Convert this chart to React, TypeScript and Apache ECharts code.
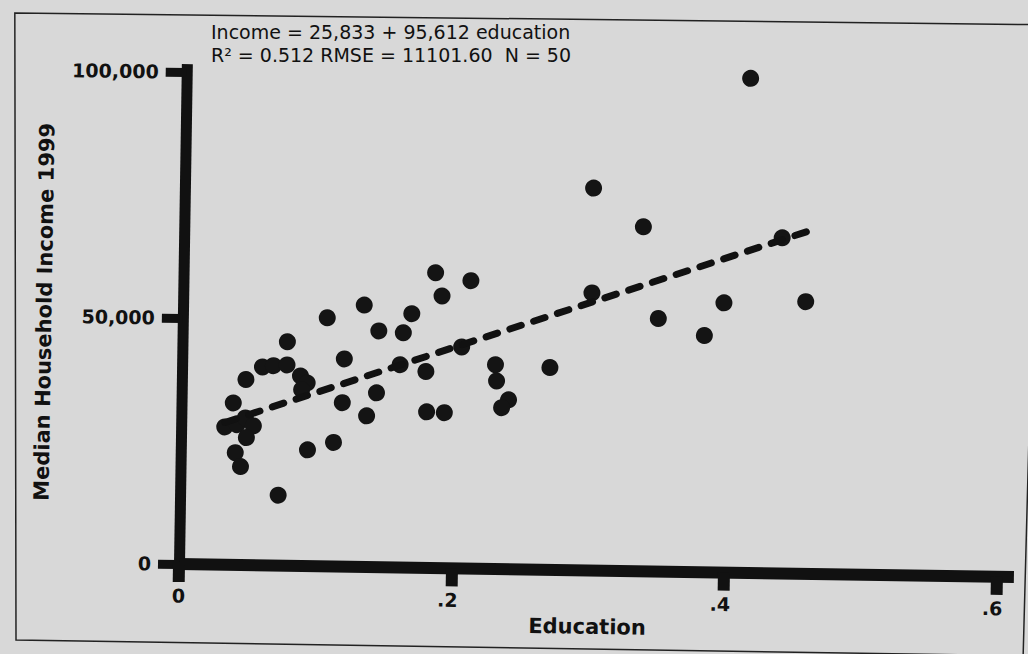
import React, { useEffect, useRef } from "react";
import * as echarts from "echarts";

// ---- data ----
const education = [
  0.185, 0.211, 0.19, 0.133, 0.106, 0.168, 0.144, 0.162, 0.077, 0.119,
  0.205, 0.059, 0.067, 0.077, 0.16, 0.179, 0.047, 0.087, 0.092, 0.088,
  0.143, 0.038, 0.118, 0.136, 0.18, 0.193, 0.032, 0.041, 0.047, 0.053,
  0.048, 0.112, 0.093, 0.04, 0.044, 0.072, 0.23, 0.231, 0.24, 0.235,
  0.27, 0.3, 0.3, 0.337, 0.349, 0.383, 0.397, 0.414, 0.439, 0.457,
];
const income = [
  60000, 58500, 55300, 53200, 50500, 51600, 48000, 47700, 45500, 42200,
  45000, 40300, 40600, 40800, 41200, 39900, 37700, 38600, 37200, 35800,
  35400, 32900, 33300, 30700, 31700, 31600, 28000, 28500, 29900, 28300,
  25900, 25200, 23600, 22800, 20000, 14300, 41500, 38200, 34400, 32800,
  41100, 56400, 77700, 70000, 51400, 48100, 54800, 100500, 68200, 55300,
];
const xTicks = [0, 0.2, 0.4, 0.6];
const yTicks = [0, 50000, 100000];
const fitIntercept = 25833;
const fitSlope = 95612;
const fitTitle = "Income = 25,833 + 95,612 education";
const fitStats = "R\u00B2 = 0.512 RMSE = 11101.60  N = 50";
const xName = "Education";
const yName = "Median Household Income 1999";

const TILT_DEG = 0.9;
const ORIGIN_X = 179;
const ORIGIN_Y = 564;
const INK = "#111111";
const FONT = "DejaVu Sans";

export default function App() {
  const ref = useRef<HTMLDivElement>(null);

  useEffect(() => {
    if (!ref.current) return;
    const chart = echarts.init(ref.current, null, { renderer: "svg" });

    const points = education.map((e, i) => [e, income[i]]);
    const eMin = Math.min(...education);
    const eMax = Math.max(...education);
    const fitLine = [
      [eMin, fitIntercept + fitSlope * eMin],
      [eMax, fitIntercept + fitSlope * eMax],
    ];
    const tilt = (TILT_DEG * Math.PI) / 180;
    const rel = (x: number, y: number) => [x - ORIGIN_X, y - ORIGIN_Y];
    const t1 = rel(211, 32);
    const t2 = rel(211, 55);

    chart.setOption({
      animation: false,
      backgroundColor: "transparent",
      grid: {
        left: ORIGIN_X,
        right: 14,
        top: 64,
        bottom: 654 - ORIGIN_Y,
        outerBoundsMode: "none",
        containLabel: false,
      },
      xAxis: {
        type: "value",
        min: 0,
        max: 0.613,
        interval: 0.2,
        splitLine: { show: false },
        axisLine: { show: true, lineStyle: { color: INK, width: 12, cap: "butt" } },
        axisTick: {
          show: true,
          customValues: xTicks,
          length: 18,
          lineStyle: { color: INK, width: 12, cap: "butt" },
        },
        axisLabel: {
          customValues: xTicks,
          margin: 22,
          color: INK,
          fontFamily: FONT,
          fontWeight: "bold",
          fontSize: 19,
          formatter: (v: number) =>
            v === 0 ? "{t|0}" : "{t|" + String(v).replace(/^0/, "") + "}{s| }",
          rich: {
            t: { fontFamily: FONT, fontWeight: "bold", fontSize: 19, color: INK },
            s: { fontFamily: FONT, fontSize: 19, width: 7 },
          },
        },
        name: xName,
        nameLocation: "middle",
        nameGap: 43,
        nameTextStyle: {
          color: INK,
          fontFamily: FONT,
          fontWeight: "bold",
          fontSize: 21,
          padding: [0, 17, 0, 0],
        },
      },
      yAxis: {
        type: "value",
        min: 0,
        max: 101600,
        interval: 50000,
        splitLine: { show: false },
        axisLine: { show: true, lineStyle: { color: INK, width: 11, cap: "butt" } },
        axisTick: {
          show: true,
          customValues: yTicks,
          length: 21,
          lineStyle: { color: INK, width: 9, cap: "butt" },
        },
        axisLabel: {
          customValues: yTicks,
          margin: 28,
          color: INK,
          fontFamily: FONT,
          fontWeight: "bold",
          fontSize: 19,
          formatter: (v: number) => v.toLocaleString("en-US"),
        },
        name: yName,
        nameLocation: "middle",
        nameGap: 128,
        nameTextStyle: {
          color: INK,
          fontFamily: FONT,
          fontWeight: "bold",
          fontSize: 21,
        },
      },
      series: [
        {
          type: "scatter",
          data: points,
          symbol: "circle",
          symbolSize: 17,
          clip: false,
          itemStyle: { color: "#141414", opacity: 1 },
          z: 3,
        },
        {
          type: "line",
          data: fitLine,
          showSymbol: false,
          symbol: "none",
          clip: false,
          lineStyle: { color: INK, width: 7, type: [12, 13], cap: "round", opacity: 1 },
          z: 4,
        },
      ],
      graphic: [
        {
          type: "group",
          x: ORIGIN_X,
          y: ORIGIN_Y,
          rotation: tilt,
          silent: true,
          children: [
            {
              type: "text",
              x: t1[0],
              y: t1[1],
              style: {
                text: fitTitle,
                fill: INK,
                font: `19px "${FONT}"`,
                lineHeight: 20,
                align: "left",
                verticalAlign: "middle",
              },
            },
            {
              type: "text",
              x: t2[0],
              y: t2[1],
              style: {
                text: fitStats,
                fill: INK,
                font: `19px "${FONT}"`,
                lineHeight: 20,
                align: "left",
                verticalAlign: "middle",
              },
            },
            {
              type: "polygon",
              shape: {
                points: [rel(15, 13), rel(1040, 25), rel(1023, 656), rel(16, 640)],
              },
              style: { fill: "none", stroke: "#222222", lineWidth: 1.5 },
            },
          ],
        },
      ],
    });

    return () => chart.dispose();
  }, []);

  return (
    <div
      style={{
        position: "absolute",
        left: 0,
        top: 0,
        width: 1028,
        height: 654,
        overflow: "hidden",
        background: "#d8d8d8",
      }}
    >
      <div
        ref={ref}
        style={{
          position: "absolute",
          left: 0,
          top: 0,
          width: 1028,
          height: 654,
          transform: `rotate(${TILT_DEG}deg)`,
          transformOrigin: `${ORIGIN_X}px ${ORIGIN_Y}px`,
        }}
      />
    </div>
  );
}
